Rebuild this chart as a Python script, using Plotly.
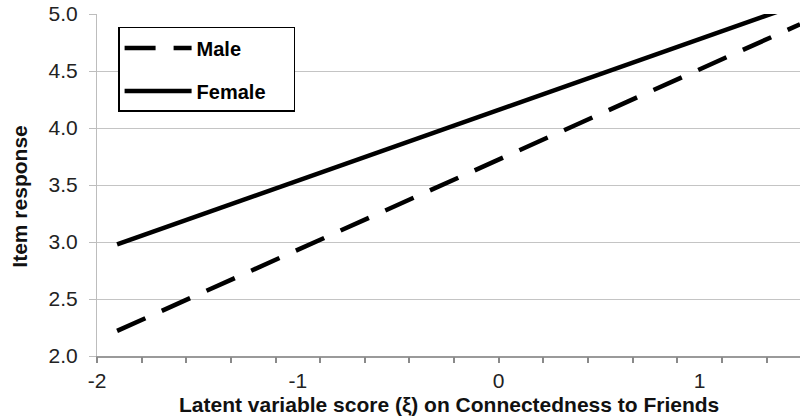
import plotly.graph_objects as go

# Data
x_vals = [-1.9, 1.5]
male = [2.22, 4.91]
female = [2.98, 5.09]

x_tick_vals = [-2, -1, 0, 1]
x_tick_text = ["-2", "-1", "0", "1"]
x_minor_ticks = [-2 + k * 2 / 9 for k in range(16)]
y_tick_vals = [2.0, 2.5, 3.0, 3.5, 4.0, 4.5, 5.0]

FONT = "Liberation Sans, Arial, Helvetica, sans-serif"
PAD = "\u00a0" * 4  # extra room at the right of the legend box

fig = go.Figure()
fig.add_trace(go.Scatter(
    x=x_vals, y=male, mode="lines", name="Male" + PAD,
    line=dict(color="black", width=4.5, dash="31px,18px"),
    legendgroup="m",
))
fig.add_trace(go.Scatter(
    x=x_vals, y=female, mode="lines", name="Female" + PAD,
    line=dict(color="black", width=4.5),
    legendgroup="f",
))
# invisible trace to carry the minor-tick axis
fig.add_trace(go.Scatter(
    x=[x_vals[0]], y=[male[0]], xaxis="x2", mode="markers",
    marker=dict(opacity=0), showlegend=False, hoverinfo="skip",
))

fig.update_layout(
    width=801, height=417,
    margin=dict(l=97, r=1, t=14, b=61, autoexpand=False),
    paper_bgcolor="white", plot_bgcolor="white",
    font=dict(family=FONT, color="#222222", size=21),
    showlegend=True,
    legend=dict(
        x=0.03, y=0.962, xanchor="left", yanchor="top",
        bgcolor="white", bordercolor="black", borderwidth=1.5,
        font=dict(family=FONT, size=20, color="black", weight="bold"),
        tracegroupgap=14, traceorder="grouped", itemwidth=67,
    ),
    xaxis=dict(
        range=[-2, 1.5], tickmode="array", tickvals=x_tick_vals, ticktext=x_tick_text,
        ticks="", showgrid=False, zeroline=False, automargin=False,
        showline=True, linecolor="#9a9a9a", linewidth=1.5,
        tickfont=dict(size=21, color="#222222"), ticklabelstandoff=5,
        ticklabeloverflow="allow",
    ),
    xaxis2=dict(
        overlaying="x", anchor="y", side="bottom", matches="x", automargin=False,
        tickmode="array", tickvals=x_minor_ticks, ticks="outside", ticklen=6,
        tickcolor="#8a8a8a", tickwidth=1.5, showticklabels=False,
        showgrid=False, zeroline=False, showline=False,
    ),
    yaxis=dict(
        range=[2, 5], tickmode="array", tickvals=y_tick_vals, tickformat=".1f",
        ticks="outside", ticklen=7, tickcolor="#bdbdbd", automargin=False,
        showgrid=True, gridcolor="#c4c4c4", gridwidth=1.2, zeroline=False,
        showline=True, linecolor="#bdbdbd", linewidth=1.2,
        tickfont=dict(size=21, color="#222222"), ticklabelstandoff=7,
        ticklabeloverflow="allow",
    ),
    annotations=[
        dict(text="<b>Latent variable score (ξ) on Connectedness to Friends</b>",
             xref="paper", yref="paper", x=0.5, y=-0.143, xanchor="center", yanchor="middle",
             showarrow=False, font=dict(size=21, color="#111111")),
        dict(text="<b>Item response</b>", textangle=-90,
             xref="paper", yref="paper", x=-0.11, y=0.465, xanchor="center", yanchor="middle",
             showarrow=False, font=dict(size=21, color="#111111")),
    ],
)

# remove the browser's default 8px body margin so the figure sits at the corner
fig.write_html("out.html", config={"displayModeBar": False},
               post_script="document.body.style.margin='0px';")
